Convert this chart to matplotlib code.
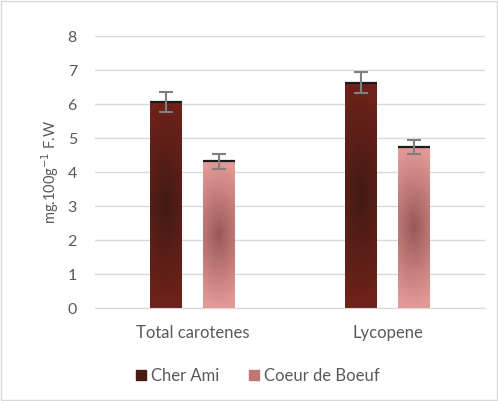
import numpy as np
import matplotlib.pyplot as plt
from matplotlib.patches import Rectangle
from matplotlib.colors import LinearSegmentedColormap

# data
categories = ["Total carotenes", "Lycopene"]
series = ["Cher Ami", "Coeur de Boeuf"]
cher_ami = [6.06, 6.63]
cher_ami_err = [0.29, 0.30]
coeur = [4.31, 4.74]
coeur_err = [0.22, 0.21]

plt.rcParams['font.family'] = ['Lato', 'DejaVu Sans']

# edge colour -> centre colour of each bar's path gradient
grad = {
    "Cher Ami": ("#6e2219", "#421a15"),
    "Coeur de Boeuf": ("#e39a96", "#975656"),
}
legend_col = {"Cher Ami": "#4a1a15", "Coeur de Boeuf": "#c27575"}


def gradient_bar(ax, x, w, h, name):
    edge, centre = grad[name]
    cmap = LinearSegmentedColormap.from_list(name, [centre, edge])
    yy, xx = np.mgrid[0:1:200j, 0:1:40j]
    d = np.sqrt((0.45 * (xx - 0.5) / 0.5) ** 2 + ((yy - 0.5) / 0.5) ** 2)
    d = np.clip(d, 0, 1) ** 0.9
    im = ax.imshow(d, cmap=cmap, vmin=0, vmax=1, extent=[x - w / 2, x + w / 2, 0, h],
                   origin='lower', aspect='auto', zorder=2, interpolation='bilinear')
    rect = Rectangle((x - w / 2, 0), w, h, facecolor='none', edgecolor='none', zorder=2)
    ax.add_patch(rect)
    im.set_clip_path(rect)
    # thin dark line on top of the bar
    ax.plot([x - w / 2, x + w / 2], [h, h], color="#1a1a1a", lw=1.6, zorder=3,
            solid_capstyle='butt')


fig = plt.figure(figsize=(4.98, 4.01), dpi=100)
ax = fig.add_axes([95 / 498, 1 - 308 / 401, 390 / 498, 272 / 401])

xpos = np.arange(len(categories))
w = 0.164
off = 0.136
for i, x in enumerate(xpos):
    gradient_bar(ax, x - off, w, cher_ami[i], "Cher Ami")
    gradient_bar(ax, x + off, w, coeur[i], "Coeur de Boeuf")

ax.errorbar(xpos - off, cher_ami, yerr=cher_ami_err, fmt='none', ecolor="#7f7f7f",
            elinewidth=1.5, capsize=5, capthick=1.5, zorder=4)
ax.errorbar(xpos + off, coeur, yerr=coeur_err, fmt='none', ecolor="#7f7f7f",
            elinewidth=1.5, capsize=5, capthick=1.5, zorder=4)

ax.set_xlim(-0.5, 1.5)
ax.set_ylim(0, 8)
ax.set_yticks(range(0, 9))
ax.set_xticks(xpos)
ax.set_xticklabels(categories)
ax.grid(axis='y', color="#d9d9d9", lw=1, zorder=0)
ax.set_axisbelow(True)
for s in ['top', 'right', 'left']:
    ax.spines[s].set_visible(False)
ax.spines['bottom'].set_color("#d9d9d9")
ax.tick_params(length=0, colors="#595959")
ax.tick_params(axis='y', labelsize=11.5, pad=13)
ax.tick_params(axis='x', labelsize=12, pad=12)
ax.set_ylabel("mg.100g$^{-1}$ F.W", fontsize=10.5, color="#595959")
ax.yaxis.set_label_coords(-0.088, 0.5)

handles = [Rectangle((0, 0), 1, 1, color=legend_col[s]) for s in series]
fig.legend(handles, series, loc='center', bbox_to_anchor=(0.518, 1 - 376 / 401), ncol=2,
           frameon=False, fontsize=12, labelcolor="#595959", handlelength=0.6,
           handleheight=0.6, handletextpad=0.3, columnspacing=1.8)

fig.patches.append(Rectangle((0.002, 0.002), 0.996, 0.996, transform=fig.transFigure,
                             facecolor='none', edgecolor="#d9d9d9", lw=1))

fig.savefig("out.png", dpi=100)
